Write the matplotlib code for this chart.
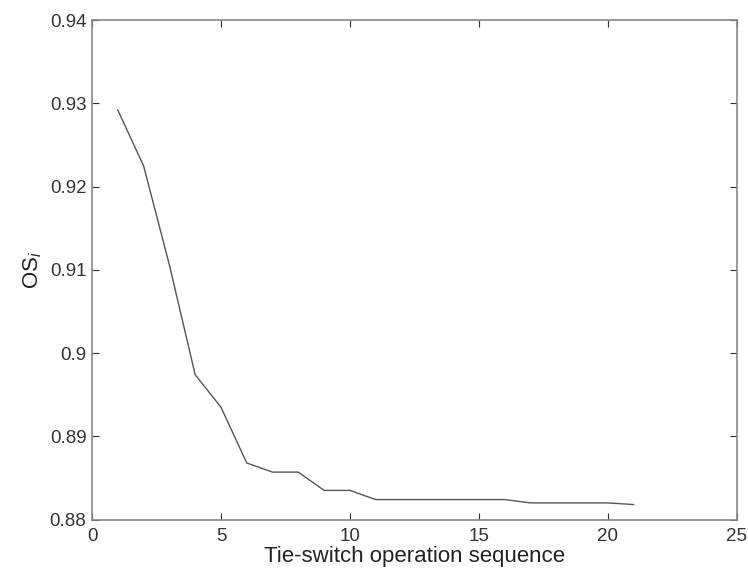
import matplotlib
matplotlib.use("Agg")
import matplotlib.pyplot as plt

plt.rcParams["font.family"] = ["Liberation Sans", "DejaVu Sans"]
plt.rcParams["mathtext.fontset"] = "custom"
plt.rcParams["mathtext.rm"] = "Liberation Sans"
plt.rcParams["mathtext.it"] = "Liberation Sans:italic"

# tie-switch operation step and the OS_i value after it
sequence = list(range(1, 22))
os_values = [0.9292, 0.9225, 0.9106, 0.8974, 0.8935, 0.8868, 0.8857, 0.8857,
             0.8835, 0.8835, 0.8824, 0.8824, 0.8824, 0.8824, 0.8824, 0.8824,
             0.8820, 0.8820, 0.8820, 0.8820, 0.8818]

fig = plt.figure(figsize=(7.48, 5.76), dpi=100)
ax = fig.add_axes([0.123, 0.098, 0.862, 0.867])
ax.plot(sequence, os_values, color="#555555", lw=1.0)

ax.set_xlim(0, 25)
ax.set_ylim(0.88, 0.94)
ax.set_xticks([0, 5, 10, 15, 20, 25])
ax.set_yticks([0.88, 0.89, 0.9, 0.91, 0.92, 0.93, 0.94])
ax.set_yticklabels(["0.88", "0.89", "0.9", "0.91", "0.92", "0.93", "0.94"])
ax.tick_params(direction="in", top=True, right=True, labelsize=13.5,
               colors="#333333", length=5)
ax.tick_params(axis="x", pad=6)
ax.tick_params(axis="y", pad=4)
for s in ax.spines.values():
    s.set_color("#888888")
    s.set_linewidth(1.2)

ax.set_xlabel("Tie-switch operation sequence", fontsize=16, color="#222222", labelpad=1)
ax.set_ylabel(r"$\mathrm{OS}_{i}$", fontsize=16, color="#222222", labelpad=4)

fig.savefig("out.png", dpi=100)
